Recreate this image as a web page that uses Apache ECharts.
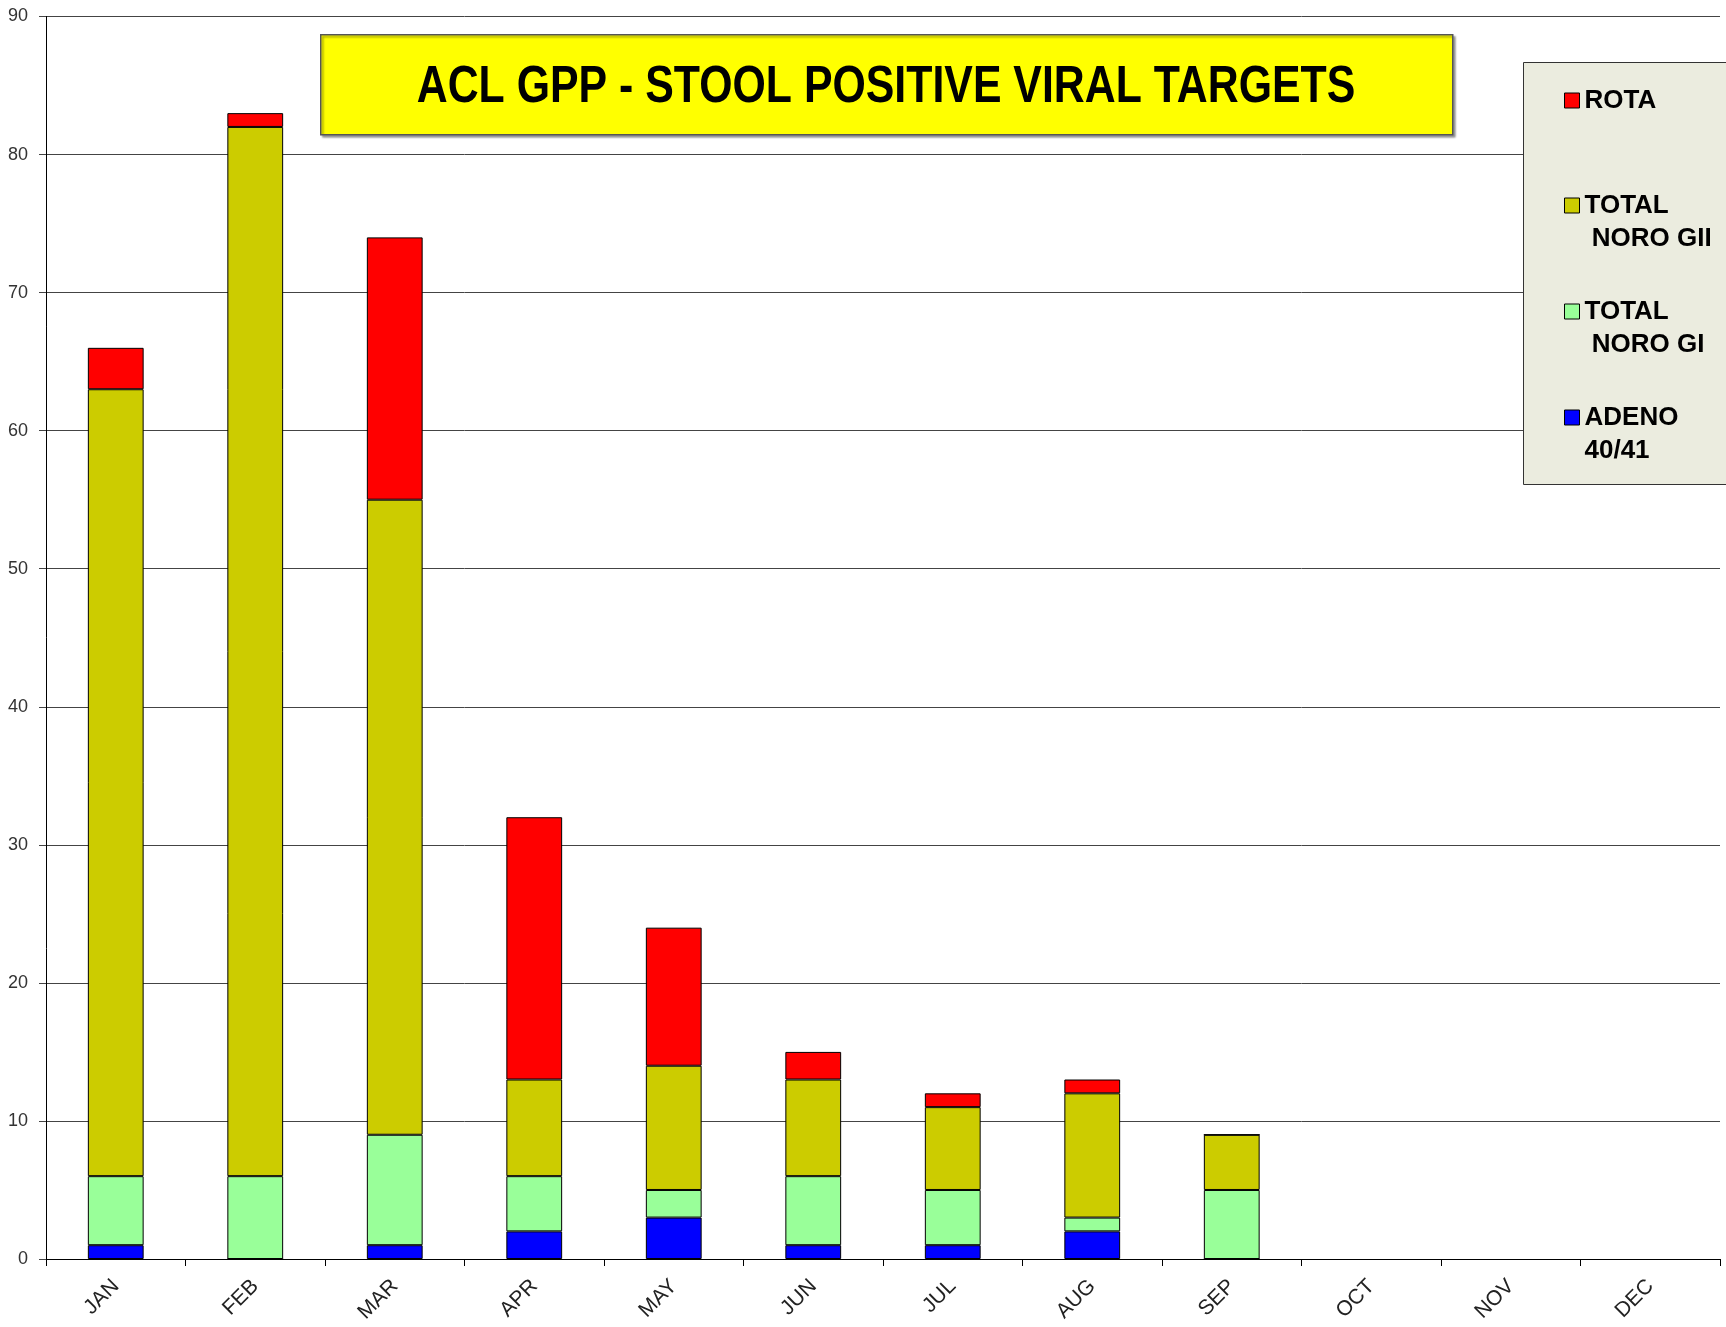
<!DOCTYPE html>
<html>
<head>
<meta charset="utf-8">
<script src="https://cdn.jsdelivr.net/npm/echarts@6/dist/echarts.min.js"></script>
<style>html,body{margin:0;padding:0;background:#fff;}#c{width:1726px;height:1327px;}</style>
</head>
<body>
<div id="c"></div>
<script>
const months = ['JAN','FEB','MAR','APR','MAY','JUN','JUL','AUG','SEP','OCT','NOV','DEC'];
const adeno  = [1, 0, 1, 2, 3, 1, 1, 2, 0, null, null, null];
const noroGI = [5, 6, 8, 4, 2, 5, 4, 1, 5, null, null, null];
const noroGII= [57, 76, 46, 7, 9, 7, 6, 9, 4, null, null, null];
const rota   = [3, 1, 19, 19, 10, 2, 1, 1, 0, null, null, null];
const yTicks = [0, 10, 20, 30, 40, 50, 60, 70, 80, 90];
const titleText = 'ACL GPP - STOOL POSITIVE VIRAL TARGETS';

const names = {
  rota: 'ROTA',
  gii: 'TOTAL\n NORO GII',
  gi: 'TOTAL\n NORO GI',
  adeno: 'ADENO\n40/41'
};

const chart = echarts.init(document.getElementById('c'));
const barStyle = (c) => ({ color: c, borderColor: '#000', borderWidth: 1 });
function mkSeries(name, data, color) {
  return { name, type: 'bar', stack: 'all', data, barWidth: '40%', itemStyle: barStyle(color), emphasis: { disabled: true } };
}
function mkLegend(name, top, twoLine) {
  return {
    data: [name], left: 1564, top: top, itemWidth: 15, itemHeight: 15, itemGap: 0,
    padding: 0, selectedMode: false, icon: 'rect', z: 5,
    // a blank line on top keeps the marker level with the first line of a two-line name
    formatter: twoLine ? (n) => ' \n' + n : (n) => n,
    textStyle: {
      fontFamily: 'Liberation Sans', fontWeight: 'bold', fontSize: 26, color: '#000',
      lineHeight: 33
    },
    itemStyle: { borderColor: '#000', borderWidth: 1 }
  };
}
chart.setOption({
  animation: false,
  backgroundColor: '#fff',
  grid: { left: 46, right: 6, top: 16.5, bottom: 68 },
  xAxis: {
    type: 'category', data: months,
    axisLine: { lineStyle: { color: '#000', width: 1 } },
    axisTick: { show: true, length: 7, lineStyle: { color: '#000' } },
    axisLabel: { rotate: 45, fontSize: 21, fontFamily: 'Liberation Sans', color: '#222', margin: 24 }
  },
  yAxis: {
    type: 'value', min: yTicks[0], max: yTicks[yTicks.length - 1], interval: 10,
    axisLine: { show: true, lineStyle: { color: '#000', width: 1 } },
    axisTick: { show: true, length: 7, lineStyle: { color: '#444' } },
    axisLabel: { fontSize: 18, fontFamily: 'Liberation Sans', color: '#333', margin: 18 },
    splitLine: { show: true, lineStyle: { color: '#444', width: 1 } }
  },
  legend: [
    mkLegend(names.rota, 84, false),
    mkLegend(names.gii, 156, true),
    mkLegend(names.gi, 262, true),
    mkLegend(names.adeno, 368, true)
  ],
  graphic: [
    { type: 'rect', left: 1523, top: 62, z: 1, shape: { x: 0, y: 0, width: 220, height: 422 },
      style: { fill: '#ebecdf', stroke: '#333', lineWidth: 1 } },
    { type: 'rect', left: 320, top: 34, z: 1, shape: { x: 0, y: 0, width: 1132, height: 100 },
      style: { fill: '#ffff00', stroke: '#555', lineWidth: 1.5, shadowColor: 'rgba(0,0,0,0.35)', shadowOffsetX: 2, shadowOffsetY: 2, shadowBlur: 2 } },
    { type: 'text', x: 886, y: 88, scaleX: 0.84, z: 2,
      style: { text: titleText, fontFamily: 'Liberation Sans', fontWeight: 'bold', fontSize: 51,
        fill: '#000', align: 'center', verticalAlign: 'middle' } }
  ],
  series: [
    mkSeries(names.adeno, adeno, '#0000ff'),
    mkSeries(names.gi, noroGI, '#99ff99'),
    mkSeries(names.gii, noroGII, '#cccc00'),
    mkSeries(names.rota, rota, '#ff0000')
  ]
});
</script>
</body>
</html>
